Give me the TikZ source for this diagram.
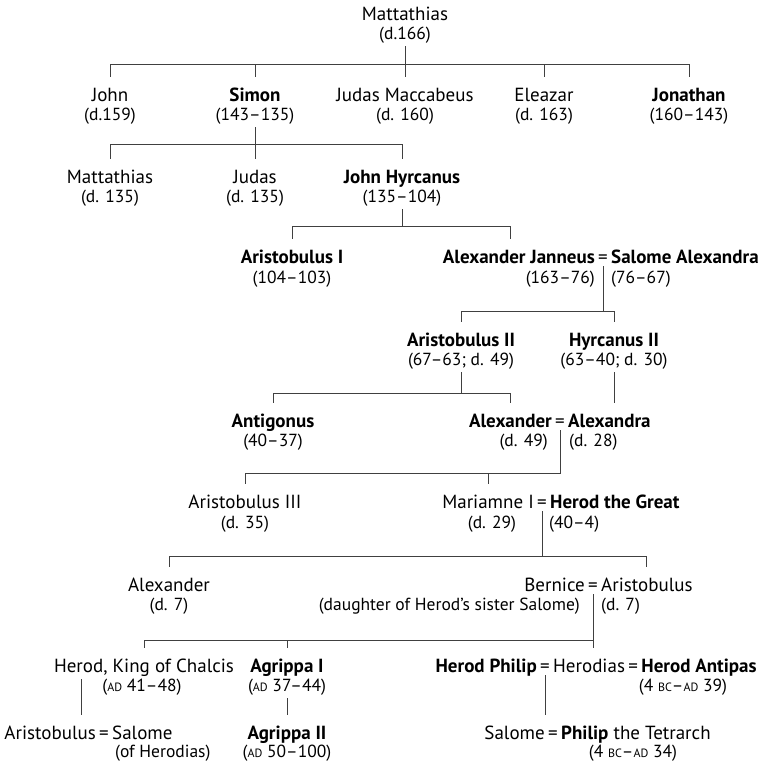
\documentclass[tikz,border=0pt]{standalone}
\usepackage{fontspec}
\setmainfont{PT Sans}
\newcommand{\treefont}{\fontsize{19}{21}\selectfont}
\newcommand{\datefont}{\fontsize{17.5}{21}\selectfont}
\newcommand{\era}[1]{{\fontsize{12}{12}\selectfont #1}}

\begin{document}
\begin{tikzpicture}[x=1pt, y=-1pt,
    every node/.style={font=\treefont, inner xsep=0pt, inner ysep=3pt},
    pname/.style={anchor=base, text height=21pt, text depth=4pt},
    king/.style={pname, font=\treefont\bfseries},
    pdate/.style={anchor=base, font=\datefont, text height=13pt, text depth=4pt},
    eqsign/.style={anchor=base, text height=13pt, text depth=0pt, inner xsep=3pt},
    tree/.style={draw=black!75, line width=0.9pt}]
    \useasboundingbox (0,0) rectangle (764,766);

    % bar heights
    \coordinate (bar0) at (0,64);
    \coordinate (bar1) at (0,144);
    \coordinate (bar2) at (0,226);
    \coordinate (bar3) at (0,311);
    \coordinate (bar4) at (0,393);
    \coordinate (bar5) at (0,473);
    \coordinate (bar6) at (0,556);
    \coordinate (bar7) at (0,640);
    \coordinate (chalcisfoot) at (81,679);

    % Mattathias
    \node[pname] (matt) at (405,20) {Mattathias};
    \node[pdate] (mattD) at (405,39) {(d.166)};

    % his sons
    \node[pname] (john) at (110,101) {John};
    \node[pdate] (johnD) at (110,120) {(d.159)};
    \node[king] (simon) at (255,101) {Simon};
    \node[pdate] (simonD) at (255,120) {(143–135)};
    \node[pname] (judasM) at (405,101) {Judas Maccabeus};
    \node[pdate] (judasMD) at (405,120) {(d. 160)};
    \node[pname] (eleazar) at (544,101) {Eleazar};
    \node[pdate] (eleazarD) at (544,120) {(d. 163)};
    \node[king] (jonathan) at (689,101) {Jonathan};
    \node[pdate] (jonathanD) at (689,120) {(160–143)};

    % sons of Simon
    \node[pname] (matt2) at (110,183) {Mattathias};
    \node[pdate] (matt2D) at (110,202) {(d. 135)};
    \node[pname] (judas) at (255,183) {Judas};
    \node[pdate] (judasD) at (255,202) {(d. 135)};
    \node[king] (hyrcanus) at (402,183) {John Hyrcanus};
    \node[pdate] (hyrcanusD) at (402,202) {(135–104)};

    % sons of John Hyrcanus
    \node[king] (aristobulus1) at (292,263) {Aristobulus I};
    \node[pdate] (aristobulus1D) at (292,283) {(104–103)};
    \node[eqsign] (eq1) at (603,263) {=};
    \node[king, anchor=base east] (janneus) at (eq1.base west) {Alexander Janneus};
    \node[king, anchor=base west] (salome) at (eq1.base east) {Salome Alexandra};
    \node[pdate, anchor=base east] (janneusD) at (595,283) {(163–76)};
    \node[pdate, anchor=base west] (salomeD) at (611,283) {(76–67)};

    \node[king] (aristobulus2) at (461,346) {Aristobulus II};
    \node[pdate] (aristobulus2D) at (461,365) {(67–63; d. 49)};
    \node[king] (hyrcanus2) at (614,346) {Hyrcanus II};
    \node[pdate] (hyrcanus2D) at (614,365) {(63–40; d. 30)};

    \node[king] (antigonus) at (273,427) {Antigonus};
    \node[pdate] (antigonusD) at (273,446) {(40–37)};
    \node[eqsign] (eq2) at (560,427) {=};
    \node[king, anchor=base east] (alexander) at (eq2.base west) {Alexander};
    \node[king, anchor=base west] (alexandra) at (eq2.base east) {Alexandra};
    \node[pdate, anchor=base east] (alexanderD) at (548,446) {(d. 49)};
    \node[pdate, anchor=base west] (alexandraD) at (569,446) {(d. 28)};

    \node[pname] (aristobulus3) at (245,508) {Aristobulus III};
    \node[pdate] (aristobulus3D) at (245,528) {(d. 35)};
    \node[eqsign] (eq3) at (542,508) {=};
    \node[pname, anchor=base east] (mariamne) at (eq3.base west) {Mariamne I};
    \node[king, anchor=base west] (herod) at (eq3.base east) {Herod the Great};
    \node[pdate] (mariamneD) at (492,528) {(d. 29)};
    \node[pdate, anchor=base west] (herodD) at (549,528) {(40–4)};

    \node[pname] (alexander2) at (169,591) {Alexander};
    \node[pdate] (alexander2D) at (169,610) {(d. 7)};
    \node[eqsign] (eq4) at (593,591) {=};
    \node[pname, anchor=base east] (bernice) at (eq4.base west) {Bernice};
    \node[pname, anchor=base west] (aristobulusB) at (eq4.base east) {Aristobulus};
    \node[pdate, anchor=base east] (berniceD) at (580,610) {(daughter of Herod’s sister Salome)};
    \node[pdate, anchor=base west] (aristobulusBD) at (601,610) {(d. 7)};

    \node[pname] (chalcis) at (144,672) {Herod, King of Chalcis};
    \node[pdate] (chalcisD) at (142,691) {(\era{AD} 41–48)};
    \node[king] (agrippa1) at (287,672) {Agrippa I};
    \node[pdate] (agrippa1D) at (287,691) {(\era{AD} 37–44)};
    \node[eqsign] (eq5) at (545,672) {=};
    \node[king, anchor=base east] (hphilip) at (eq5.base west) {Herod Philip};
    \node[pname, anchor=base west] (herodias) at (eq5.base east) {Herodias};
    \node[eqsign, anchor=base west] (eq6) at (herodias.base east) {=};
    \node[king, anchor=base west] (antipas) at (eq6.base east) {Herod Antipas};
    \node[pdate] (antipasD) at (683,691) {(4 \era{BC}–\era{AD} 39)};

    \node[eqsign] (eq8) at (104,739) {=};
    \node[pname, anchor=base east] (aristobulus4) at (eq8.base west) {Aristobulus};
    \node[pname, anchor=base west] (salomeH) at (eq8.base east) {Salome};
    \node[pdate, anchor=base west] (salomeHD) at (115,757) {(of Herodias)};
    \node[king] (agrippa2) at (287,739) {Agrippa II};
    \node[pdate] (agrippa2D) at (287,757) {(\era{AD} 50–100)};
    \node[eqsign] (eq7) at (553,739) {=};
    \node[pname, anchor=base east] (salome2) at (eq7.base west) {Salome};
    \node[pname, anchor=base west] (philip) at (eq7.base east) {\textbf{Philip} the Tetrarch};
    \node[pdate] (philipD) at (633,757) {(4 \era{BC}–\era{AD} 34)};

    % lines of descent
    \draw[tree] (mattD.south) -- (judasM.north);
    \draw[tree] (john.north) -- (john.north |- bar0) -- (jonathan.north |- bar0) -- (jonathan.north);
    \draw[tree] (simon.north) -- (simon.north |- bar0);
    \draw[tree] (eleazar.north) -- (eleazar.north |- bar0);

    \draw[tree] (simonD.south) -- (judas.north);
    \draw[tree] (matt2.north) -- (matt2.north |- bar1) -- (hyrcanus.north |- bar1) -- (hyrcanus.north);

    \draw[tree] (hyrcanusD.south) -- (hyrcanusD.south |- bar2);
    \draw[tree] (aristobulus1.north) -- (aristobulus1.north |- bar2)
        -- ([xshift=-8pt]janneus.north |- bar2) -- ([xshift=-8pt]janneus.north);

    \draw[tree] (eq1.south) -- (eq1.south |- bar3);
    \draw[tree] (aristobulus2.north) -- (aristobulus2.north |- bar3) -- (hyrcanus2.north |- bar3) -- (hyrcanus2.north);

    \draw[tree] (aristobulus2D.south) -- (aristobulus2D.south |- bar4);
    \draw[tree] (antigonus.north) -- (antigonus.north |- bar4) -- (alexander.north |- bar4) -- (alexander.north);
    \draw[tree] (hyrcanus2D.south) -- (hyrcanus2D.south |- alexandra.north);

    \draw[tree] (eq2.south) -- (eq2.south |- bar5) -- (aristobulus3.north |- bar5) -- (aristobulus3.north);
    \draw[tree] (mariamne.north) -- (mariamne.north |- bar5);

    \draw[tree] (eq3.south) -- (eq3.south |- bar6);
    \draw[tree] (alexander2.north) -- (alexander2.north |- bar6) -- (aristobulusB.north |- bar6) -- (aristobulusB.north);

    \draw[tree] (eq4.south) -- (eq4.south |- herodias.north);
    \draw[tree] (chalcis.north) -- (chalcis.north |- bar7) -- (eq4.south |- bar7);
    \draw[tree] (agrippa1.north) -- (agrippa1.north |- bar7);

    \draw[tree] (chalcisfoot) -- (chalcisfoot |- aristobulus4.north);
    \draw[tree] (agrippa1D.south) -- (agrippa2.north);
    \draw[tree] (eq5.south) -- (eq5.south |- salome2.north);
\end{tikzpicture}
\end{document}
